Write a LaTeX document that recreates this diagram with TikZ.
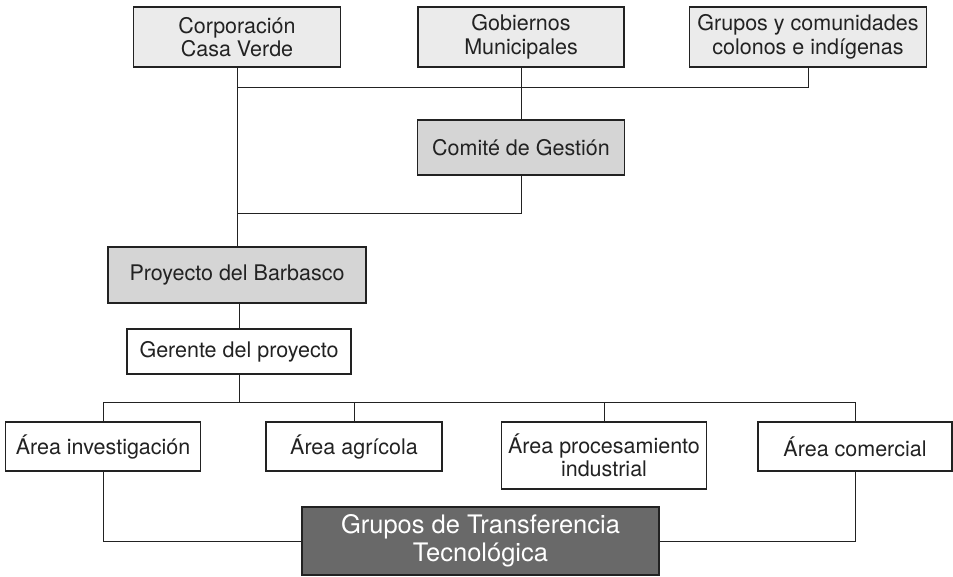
\documentclass[tikz,border=0pt]{standalone}
\usepackage{fontspec}
\setmainfont{TeX Gyre Heros}
\definecolor{lightbox}{HTML}{EBEBEB}
\definecolor{midbox}{HTML}{D5D5D5}
\definecolor{darkbox}{HTML}{696969}
\definecolor{ink}{HTML}{222222}
\begin{document}
\begin{tikzpicture}[x=1pt,y=-1pt,
  box/.style={draw=ink,line width=1.1pt,align=center,inner sep=0pt,
    font=\fontsize{21.5}{23.5}\selectfont,text=ink,anchor=center},
  light/.style={box,fill=lightbox},
  mid/.style={box,fill=midbox},
  plain/.style={box,fill=white},
  dark/.style={box,fill=darkbox,text=white,font=\fontsize{25.5}{28}\selectfont},
  conn/.style={draw=ink,line width=1pt}]
\useasboundingbox (0,0) rectangle (953,576);
\node[light,minimum width=207,minimum height=60] (corp) at (237,37) {Corporación\\Casa Verde};
\node[light,minimum width=206,minimum height=60] (gob) at (521,37) {Gobiernos\\Municipales};
\node[light,minimum width=237,minimum height=60] (grup) at (808,37) {Grupos y comunidades\\colonos e indígenas};
\node[mid,minimum width=207,minimum height=55] (comite) at (521,147.5) {Comité de Gestión};
\node[mid,minimum width=258,minimum height=56] (proy) at (237,275) {Proyecto del Barbasco};
\node[plain,minimum width=224,minimum height=45] (ger) at (239,351.5) {Gerente del proyecto};
\node[plain,minimum width=195,minimum height=49] (ainv) at (103,446.5) {Área investigación};
\node[plain,minimum width=176,minimum height=49] (aagr) at (354,446.5) {Área agrícola};
\node[plain,minimum width=205,minimum height=67] (aproc) at (604,455.5) {Área procesamiento\\industrial};
\node[plain,minimum width=194,minimum height=49] (acom) at (855,446.5) {Área comercial};
\node[dark,minimum width=357,minimum height=68] (gtt) at (480.5,541) {Grupos de Transferencia\\Tecnológica};
\coordinate (bus) at (0,87);
\coordinate (mbus) at (0,213);
\coordinate (abus) at (0,402);
% top level
\draw[conn] (corp.south) -- (proy.north);
\draw[conn] (grup.south) -- (grup.south |- bus) -- (corp.south |- bus);
\draw[conn] (gob.south) -- (comite.north);
\draw[conn] (comite.south) -- (comite.south |- mbus) -- (corp.south |- mbus);
\draw[conn] (proy.south -| ger.north) -- (ger.north);
% areas
\draw[conn] (ger.south) -- (ger.south |- abus);
\draw[conn] (ainv.north) -- (ainv.north |- abus) -- (acom.north |- abus) -- (acom.north);
\draw[conn] (aagr.north) -- (aagr.north |- abus);
\draw[conn] (aproc.north) -- (aproc.north |- abus);
\draw[conn] (ainv.south) |- (gtt.west);
\draw[conn] (acom.south) |- (gtt.east);
\end{tikzpicture}
\end{document}
